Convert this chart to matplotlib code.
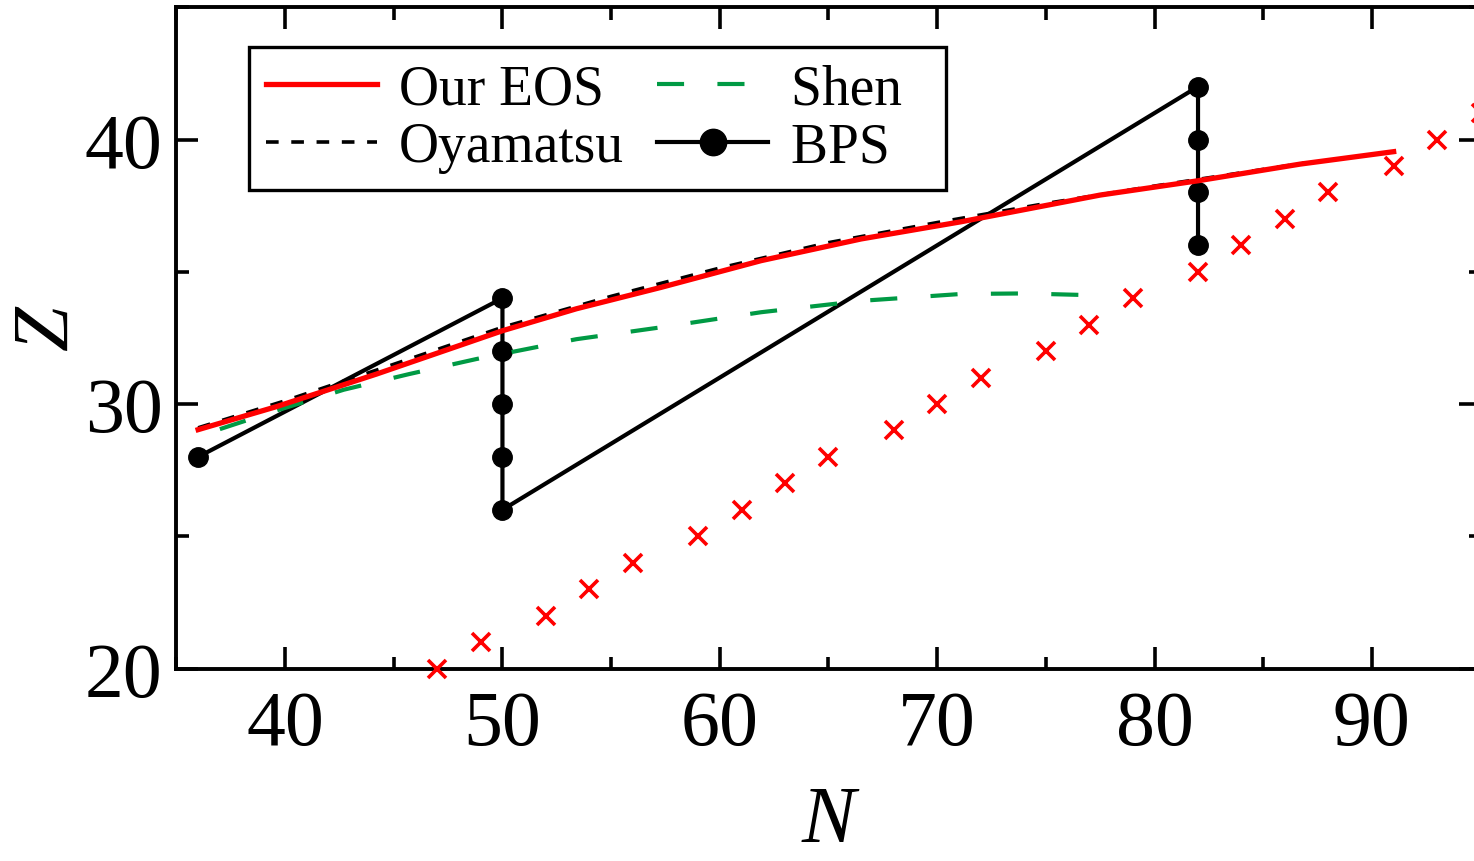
import matplotlib
matplotlib.use("Agg")
import matplotlib.pyplot as plt
from matplotlib.ticker import MultipleLocator

plt.rcParams['font.family'] = ['Liberation Serif', 'DejaVu Serif']

# Our EOS
our_N = [36.0, 39.6, 44.2, 50.0, 53.4, 57.3, 61.9, 66.5, 71.1, 77.5, 82.0, 86.7, 91.0]
our_Z = [29.03, 29.9, 31.13, 32.77, 33.6, 34.41, 35.42, 36.24, 36.89, 37.9, 38.44, 39.07, 39.54]

# Oyamatsu
oya_N = [36.0, 40, 45, 50, 55, 60, 65, 70, 75, 80, 87]
oya_Z = [29.1, 30.12, 31.5, 32.9, 34.07, 35.14, 36.1, 36.86, 37.58, 38.24, 39.12]

# Shen
shen_N = [37.0, 39.6, 42.7, 45.7, 48.8, 53.4, 57.3, 61.9, 66.5, 71.1, 74.0, 76.8]
shen_Z = [29.05, 29.75, 30.54, 31.13, 31.7, 32.45, 32.9, 33.47, 33.9, 34.16, 34.18, 34.12]

# BPS
bps_N = [36, 50, 50, 50, 50, 50, 82, 82, 82, 82]
bps_Z = [28, 34, 32, 30, 28, 26, 42, 40, 38, 36]

# red crosses
x_N = [47, 49, 52, 54, 56, 59, 61, 63, 65, 68, 70, 72, 75, 77, 79, 82, 84, 86, 88, 91, 93, 95]
x_Z = [20, 21, 22, 23, 24, 25, 26, 27, 28, 29, 30, 31, 32, 33, 34, 35, 36, 37, 38, 39, 40, 41]

fig = plt.figure(figsize=(14.74, 8.62), dpi=100)
ax = fig.add_axes([176.4/1474, (862-669.5)/862, (1480.6-176.4)/1474, (669.5-8.25)/862])

ax.plot(bps_N, bps_Z, color='black', lw=3, marker='o', ms=14, label='BPS', zorder=3)
ax.plot(shen_N, shen_Z, color='#009a44', lw=3, dashes=(6.5, 8), label='Shen', zorder=3.5)
ax.plot(oya_N, oya_Z, color='black', lw=2.6, dashes=(3.5, 3.5), label='Oyamatsu', zorder=4)
ax.plot(our_N, our_Z, color='#ff0000', lw=3.8, label='Our EOS', zorder=5)
ax.plot(x_N, x_Z, ls='none', marker='x', ms=13.5, mew=2.6, color='#ff0000', clip_on=False, zorder=5)

ax.set_xlim(35, 95)
ax.set_ylim(20, 45)
ax.xaxis.set_major_locator(MultipleLocator(10))
ax.xaxis.set_minor_locator(MultipleLocator(5))
ax.yaxis.set_major_locator(MultipleLocator(10))
ax.yaxis.set_minor_locator(MultipleLocator(5))
ax.tick_params(which='both', direction='in', top=True, right=True, width=2.6)
ax.tick_params(which='major', length=16, labelsize=56)
ax.tick_params(which='minor', length=9)
ax.tick_params(axis='x', which='major', pad=15)
ax.tick_params(axis='y', which='major', pad=10)
for s in ax.spines.values():
    s.set_linewidth(2.8)

ax.set_xlabel('N', fontsize=58, fontstyle='italic')
ax.set_ylabel('Z', fontsize=58, fontstyle='italic')
ax.xaxis.set_label_coords(0.5, -0.176)
ax.yaxis.set_label_coords(-0.07, 0.515)

h, l = ax.get_legend_handles_labels()
order = ['Our EOS', 'Oyamatsu', 'Shen', 'BPS']
hd = dict(zip(l, h))
leg = ax.legend([hd[k] for k in order], ['Our EOS', 'Oyamatsu', 'Shen  ', 'BPS  '], ncol=2, loc='upper left',
                bbox_to_anchor=(0.0557, 0.94), borderaxespad=0, fontsize=40,
                frameon=True, fancybox=False, edgecolor='black', framealpha=1,
                handlelength=2.0, handletextpad=0.4, columnspacing=0.6,
                labelspacing=0.1, borderpad=0.3)
leg.get_frame().set_linewidth(2.4)
leg.legend_handles[3].set_markersize(19)

fig.savefig('out.png', dpi=100)
